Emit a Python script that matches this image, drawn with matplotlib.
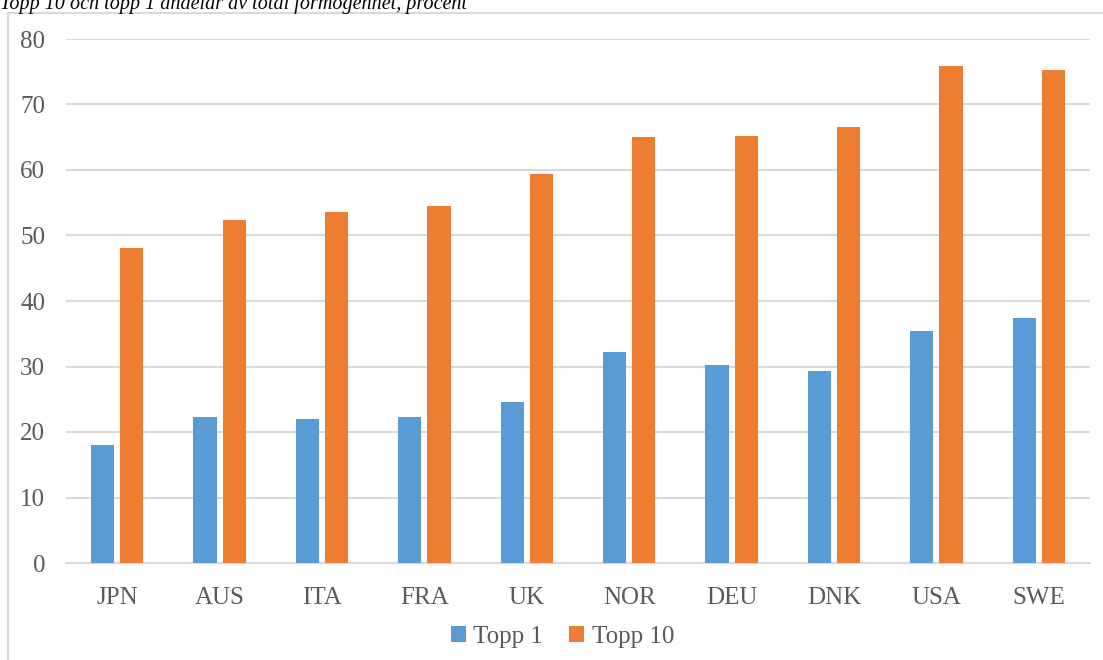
import matplotlib.pyplot as plt
import numpy as np
from matplotlib.patches import Rectangle

lander = ['JPN', 'AUS', 'ITA', 'FRA', 'UK', 'NOR', 'DEU', 'DNK', 'USA', 'SWE']
topp1 = [18.0, 22.3, 22.0, 22.3, 24.6, 32.2, 30.2, 29.3, 35.4, 37.4]
topp10 = [48.1, 52.4, 53.6, 54.5, 59.4, 65.0, 65.2, 66.6, 75.9, 75.3]

plt.rcParams['font.family'] = ['Liberation Serif', 'DejaVu Serif']
grå = '#595959'

fig = plt.figure(figsize=(11.03, 6.6), dpi=100)
ax = fig.add_axes([66/1103, 1-563/660, 1024/1103, (563-39)/660])

x = np.arange(len(lander))
b = 0.225
ax.bar(x - 0.1425, topp1, b, color='#5b9bd5', label='Topp 1', zorder=3)
ax.bar(x + 0.1425, topp10, b, color='#ed7d31', label='Topp 10', zorder=3)

ax.set_xlim(-0.5, len(lander) - 0.5)
ax.set_ylim(0, 80)
ax.set_yticks(range(0, 81, 10))
ax.set_xticks(x)
ax.set_xticklabels(lander)
ax.grid(axis='y', color='#d9d9d9', linewidth=1.5, zorder=0)
for s in ['top', 'right', 'left']:
    ax.spines[s].set_visible(False)
ax.spines['bottom'].set_color('#d9d9d9')
ax.spines['bottom'].set_linewidth(1.5)
ax.tick_params(length=0, labelsize=18, labelcolor=grå)
ax.tick_params(axis='y', pad=15)
ax.tick_params(axis='x', pad=17)

leg = fig.legend(loc='center', bbox_to_anchor=(0.51, 1-637/660), ncol=2, frameon=False,
                 fontsize=18, handlelength=0.6, handleheight=0.6, columnspacing=1.05, handletextpad=0.3)
for t in leg.get_texts():
    t.set_color(grå)

fig.patches.append(Rectangle((8/1103, -0.01), 1.0, 1-13/660 + 0.01, transform=fig.transFigure,
                             fill=False, edgecolor='#d9d9d9', linewidth=1.5))
fig.text(0.0, 1-4/660, 'Topp 10 och topp 1 andelar av total förmögenhet, procent',
         fontsize=14.5, style='italic', va='center', ha='left')

fig.savefig('out.png', dpi=100)
